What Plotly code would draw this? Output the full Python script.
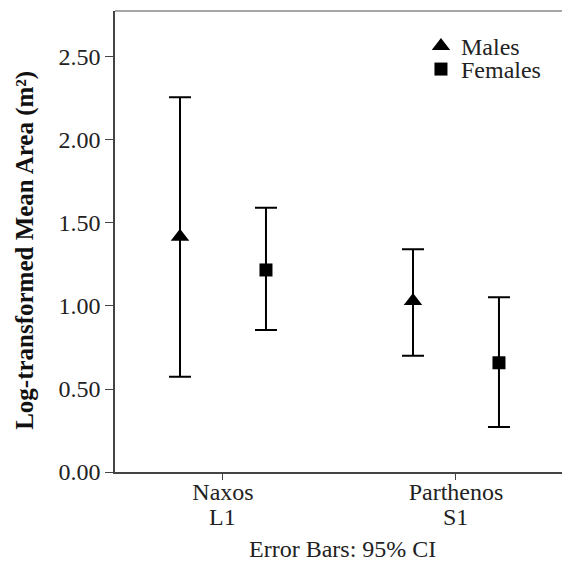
import plotly.graph_objects as go

sites = ["Naxos", "Parthenos"]
codes = ["L1", "S1"]
males_mean = [1.417, 1.03]
males_lower = [0.574, 0.701]
males_upper = [2.257, 1.342]
females_mean = [1.217, 0.658]
females_lower = [0.855, 0.271]
females_upper = [1.592, 1.052]
y_ticks = [0, 0.5, 1.0, 1.5, 2.0, 2.5]
y_ticktext = ["0.00", "0.50", "1.00", "1.50", "2.00", "2.50"]

FONT = "Liberation Serif, Times New Roman, serif"
off = 0.1845
xs = list(range(len(sites)))

fig = go.Figure()
for name, mean, lo, hi, sym, sz, dx, leg in [
    ("Males", males_mean, males_lower, males_upper, "triangle-up", 16, -off, "legend"),
    ("Females", females_mean, females_lower, females_upper, "square", 13, off, "legend2"),
]:
    fig.add_trace(go.Scatter(
        x=[x + dx for x in xs], y=mean, mode="markers", name=name, legend=leg,
        marker=dict(symbol=sym, size=sz, color="black"),
        error_y=dict(type="data", symmetric=False,
                     array=[h - m for h, m in zip(hi, mean)],
                     arrayminus=[m - l for m, l in zip(mean, lo)],
                     color="black", thickness=2, width=11),
    ))

legstyle = dict(xanchor="left", yanchor="top", bgcolor="rgba(0,0,0,0)",
                font=dict(size=24, family=FONT, color="#222"), itemwidth=30)

fig.update_layout(
    width=562, height=562, autosize=False,
    margin=dict(l=115, r=0, t=11, b=90),
    plot_bgcolor="white", paper_bgcolor="white",
    font=dict(family=FONT, size=24, color="#222"),
    showlegend=True,
    legend=dict(x=0.6845, y=0.972, **legstyle),
    legend2=dict(x=0.6845, y=0.922, **legstyle),
    xaxis=dict(range=[-0.4635, 1.455], tickvals=xs, ticktext=sites,
               showgrid=False, zeroline=False, showline=True, linecolor="#444",
               linewidth=1.5, ticks="outside", ticklen=6, tickcolor="#444",
               ticklabelstandoff=-9,
               tickfont=dict(size=24, family=FONT, color="#222")),
    yaxis=dict(range=[0, 2.777], tickvals=y_ticks, ticktext=y_ticktext,
               showgrid=False, zeroline=False, showline=True, linecolor="#444",
               linewidth=1.5, ticks="outside", ticklen=8, tickcolor="#444",
               tickfont=dict(size=24, family=FONT, color="#222")),
    shapes=[dict(type="line", xref="paper", yref="paper", x0=0, x1=1, y0=1, y1=1,
                 line=dict(color="#888", width=1.5))],
    annotations=[
        dict(text="<b>Log-transformed Mean Area (m²)</b>", xref="paper", yref="paper",
             x=-0.201, y=0.48, textangle=-90, showarrow=False,
             xanchor="center", yanchor="middle", font=dict(size=25, family=FONT, color="#111")),
        dict(text="Error Bars: 95% CI", xref="paper", yref="paper",
             x=0.508, y=-0.167, showarrow=False, xanchor="center", yanchor="middle",
             font=dict(size=24, family=FONT, color="#222")),
    ] + [
        dict(text=c, xref="x", yref="paper", x=i, y=-0.0976, showarrow=False,
             xanchor="center", yanchor="middle", font=dict(size=24, family=FONT, color="#222"))
        for i, c in enumerate(codes)
    ],
)

post = ("document.body.style.margin='0';document.body.style.padding='0';"
        "document.body.style.overflow='hidden';"
        "var gd=document.getElementById('{plot_id}');"
        "Plotly.relayout(gd,{width:562,height:562});")
fig.write_html("out.html", config={"responsive": False, "displayModeBar": False},
               post_script=post)
